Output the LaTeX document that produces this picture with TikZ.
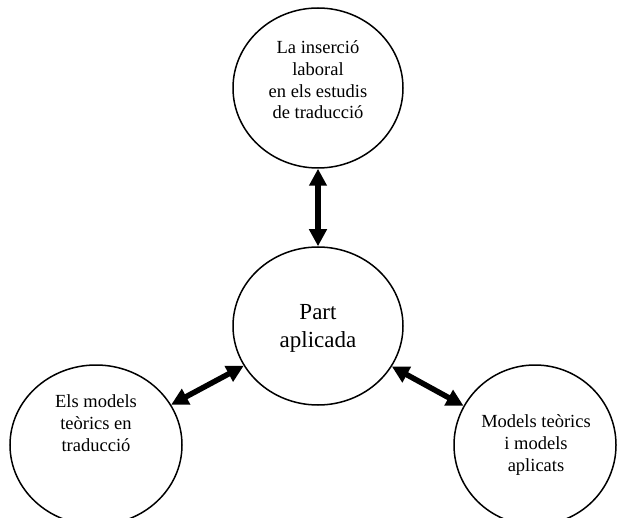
\documentclass[tikz,border=0pt]{standalone}
\usepackage{fontspec}
\setmainfont{Liberation Serif}
\usetikzlibrary{shapes.geometric,arrows.meta}

\tikzset{
  topic/.style={ellipse, draw=black, line width=1.5pt, fill=white, inner sep=0pt},
  caption/.style={align=center, inner sep=0pt, font=\fontsize{18.5}{21.7}\selectfont},
  maincaption/.style={align=center, inner sep=0pt, font=\fontsize{23}{28}\selectfont},
  link/.style={line width=5.5pt,
    {Triangle[length=17pt,width=17pt]}-{Triangle[length=17pt,width=17pt]}}
}

\begin{document}
\begin{tikzpicture}[x=1pt,y=-1pt]
  \useasboundingbox (0,0) rectangle (618,518);
  \begin{scope}
    \clip (0,0) rectangle (618,518);

    % circles
    \node[topic, minimum width=170pt, minimum height=160pt] (ins) at (318,88) {};
    \node[topic, minimum width=170pt, minimum height=158pt] (part) at (318,326) {};
    \node[topic, minimum width=172pt, minimum height=160pt] (teo) at (96,445) {};
    \node[topic, minimum width=162pt, minimum height=160pt] (apl) at (535,445) {};

    % texts
    \node[caption] (insT) at (318,80) {La inserció\\laboral\\en els estudis\\de traducció};
    \node[maincaption] (partT) at (318,328) {Part\\aplicada};
    \node[caption] (teoT) at (96,423) {Els models\\teòrics en\\traducció};
    \node[caption] (aplT) at (536,445) {Models teòrics\\i models\\aplicats};

    % double-headed links
    \draw[link] (ins) -- (part);
    \draw[link] (part) -- (teo);
    \draw[link] (part) -- (apl);
  \end{scope}
\end{tikzpicture}
\end{document}
